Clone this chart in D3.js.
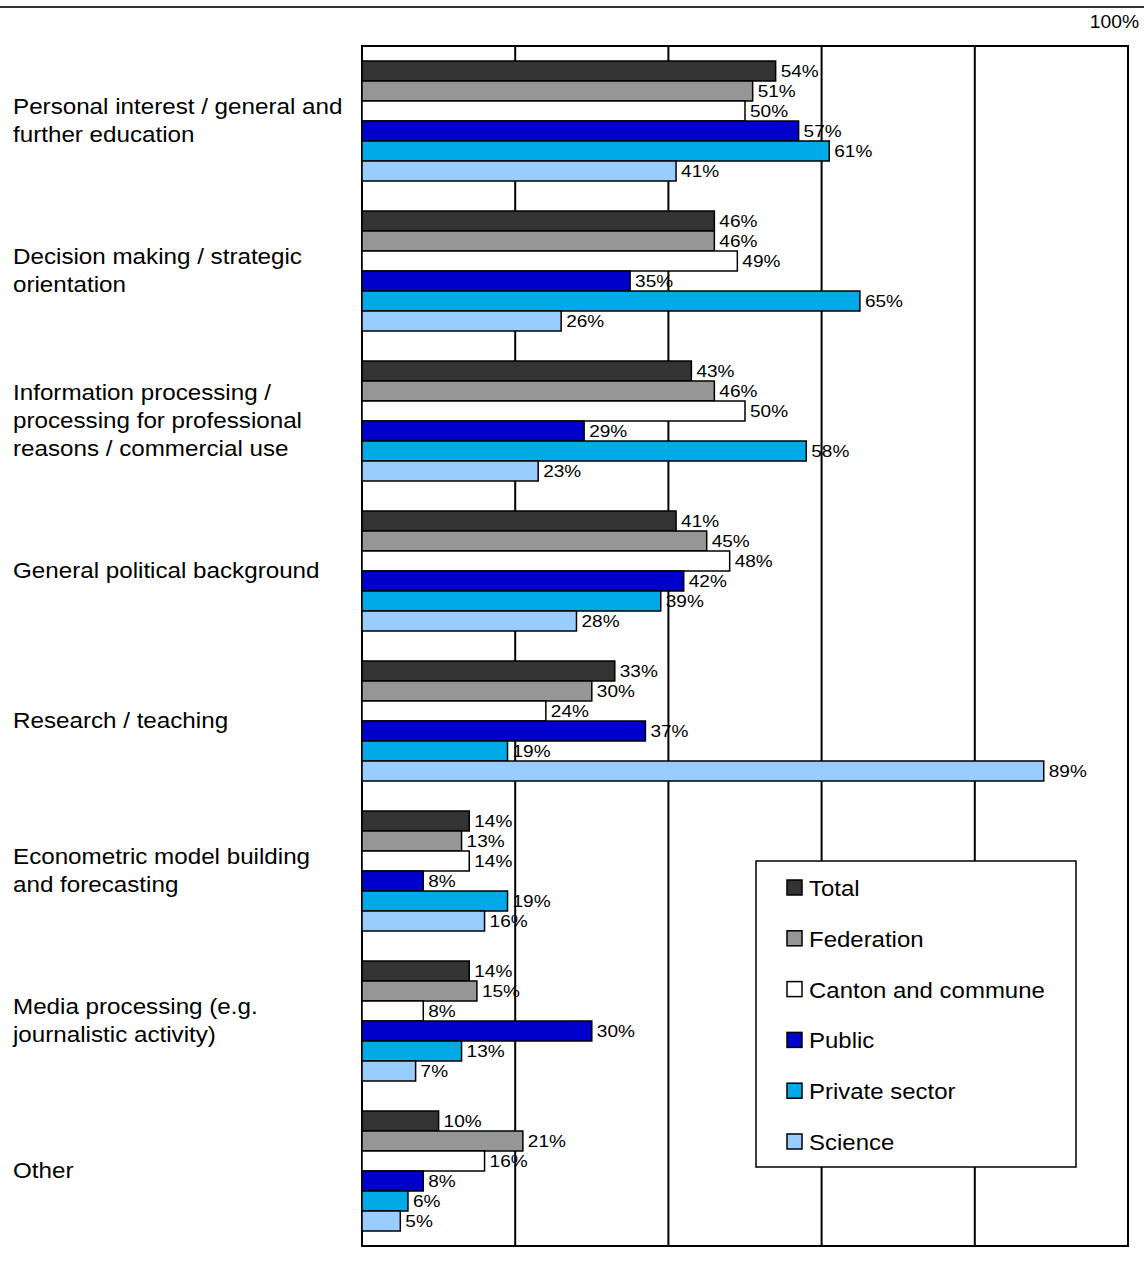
<!DOCTYPE html>
<html>
<head>
<meta charset="utf-8">
<script src="https://cdn.jsdelivr.net/npm/d3@7"></script>
<style>
  html, body { margin: 0; padding: 0; background: #fff; }
  svg text { font-family: "Liberation Sans", Arial, sans-serif; fill: #000; }
</style>
</head>
<body>
<svg id="chart" width="1144" height="1264"></svg>
<script>
const categories = [
  ["Personal interest / general and", "further education"],
  ["Decision making / strategic", "orientation"],
  ["Information processing /", "processing for professional", "reasons / commercial use"],
  ["General political background"],
  ["Research / teaching"],
  ["Econometric model building", "and forecasting"],
  ["Media processing (e.g.", "journalistic activity)"],
  ["Other"]
];
const seriesNames = ["Total", "Federation", "Canton and commune", "Public", "Private sector", "Science"];
const seriesColors = ["#333333", "#969696", "#ffffff", "#0000cc", "#00aae6", "#99ccff"];
const totalValues      = [54, 46, 43, 41, 33, 14, 14, 10];
const federationValues = [51, 46, 46, 45, 30, 13, 15, 21];
const cantonValues     = [50, 49, 50, 48, 24, 14,  8, 16];
const publicValues     = [57, 35, 29, 42, 37,  8, 30,  8];
const privateValues    = [61, 65, 58, 39, 19, 19, 13,  6];
const scienceValues    = [41, 26, 23, 28, 89, 16,  7,  5];
const seriesValues = [totalValues, federationValues, cantonValues, publicValues, privateValues, scienceValues];
const xTicks = [0, 20, 40, 60, 80, 100];
const topLabel = "100%";

const svg = d3.select("#chart");
const plot = { left: 362, right: 1128, top: 46, bottom: 1246 };

const x = d3.scaleLinear().domain([0, 100]).range([plot.left, plot.right]);
const y = d3.scaleBand().domain(d3.range(categories.length)).range([plot.top, plot.bottom]).paddingInner(0.2).paddingOuter(0.1);
const ySub = d3.scaleBand().domain(d3.range(seriesNames.length)).range([0, y.bandwidth()]);

// top rule
svg.append("line").attr("x1", 0).attr("x2", 1144).attr("y1", 7).attr("y2", 7)
  .attr("stroke", "#333").attr("stroke-width", 2);
svg.append("text").attr("transform", "translate(1139,28) scale(1.1,1)")
  .attr("text-anchor", "end").style("font-size", "17.5px").text(topLabel);

// plot box and gridlines
svg.append("rect").attr("x", plot.left).attr("y", plot.top)
  .attr("width", plot.right - plot.left).attr("height", plot.bottom - plot.top)
  .attr("fill", "#fff").attr("stroke", "#000").attr("stroke-width", 2);

svg.append("g").selectAll("line").data(xTicks.slice(1, -1)).join("line")
  .attr("x1", d => x(d)).attr("x2", d => x(d))
  .attr("y1", plot.top).attr("y2", plot.bottom)
  .attr("stroke", "#000").attr("stroke-width", 2);

// bars
const groups = svg.append("g").selectAll("g").data(categories).join("g")
  .attr("transform", (d, i) => `translate(0,${y(i)})`);

groups.each(function(cat, ci) {
  const g = d3.select(this);
  seriesNames.forEach((s, si) => {
    const v = seriesValues[si][ci];
    g.append("rect")
      .attr("x", x(0)).attr("y", ySub(si))
      .attr("width", x(v) - x(0)).attr("height", ySub.bandwidth())
      .attr("fill", seriesColors[si]).attr("stroke", "#000").attr("stroke-width", 1.5);
  });
});

// value labels
groups.each(function(cat, ci) {
  const g = d3.select(this);
  seriesNames.forEach((s, si) => {
    const v = seriesValues[si][ci];
    const cy = ySub(si) + ySub.bandwidth() / 2;
    g.append("text")
      .attr("transform", `translate(${x(v) + 5},${cy + 6}) scale(1.12,1)`)
      .style("font-size", "17px")
      .text(v + "%");
  });
});

// category labels
const lineH = 28;
categories.forEach((lines, ci) => {
  const cy = y(ci) + y.bandwidth() / 2;
  const n = lines.length;
  lines.forEach((ln, li) => {
    const ly = cy + (li - (n - 1) / 2) * lineH;
    svg.append("text")
      .attr("transform", `translate(13,${ly + 7}) scale(1.1,1)`)
      .style("font-size", "22px")
      .text(ln);
  });
});

// legend
const legend = svg.append("g");
legend.append("rect").attr("x", 756).attr("y", 861).attr("width", 320).attr("height", 306)
  .attr("fill", "#fff").attr("stroke", "#000").attr("stroke-width", 1.5);
const ly = d3.scalePoint().domain(d3.range(seriesNames.length)).range([888, 1142]);
seriesNames.forEach((s, si) => {
  legend.append("rect").attr("x", 787).attr("y", ly(si) - 8).attr("width", 15).attr("height", 15)
    .attr("fill", seriesColors[si]).attr("stroke", "#000").attr("stroke-width", 1.5);
  legend.append("text").attr("transform", `translate(809,${ly(si) + 8}) scale(1.09,1)`)
    .style("font-size", "22px").text(s);
});
</script>
</body>
</html>
